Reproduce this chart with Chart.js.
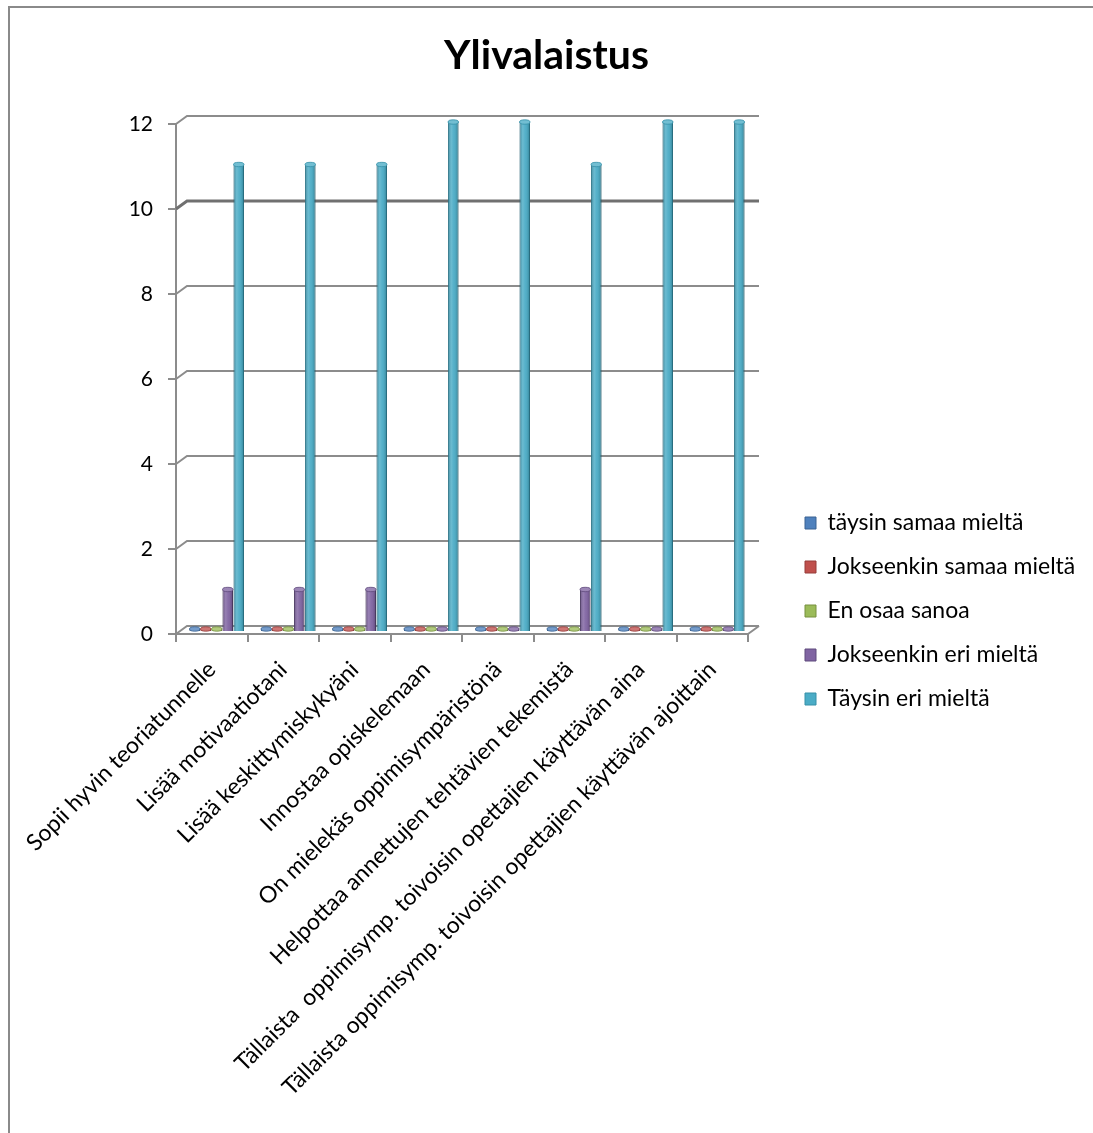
<!DOCTYPE html>
<html lang="fi">
<head>
<meta charset="utf-8">
<title>Ylivalaistus</title>
<script src="https://cdn.jsdelivr.net/npm/chart.js@4.4.1/dist/chart.umd.min.js"></script>
<style>
  html, body { margin: 0; padding: 0; background: #fff; overflow: hidden; }
  #frame {
    position: absolute; left: 8px; top: 6px; width: 2000px; height: 2000px;
    border-left: 2px solid #8a8a8a; border-top: 2px solid #8a8a8a; background: #fff;
  }
  #wrap { position: absolute; left: 0; top: 0; width: 1093px; height: 1133px; }
</style>
</head>
<body>
<div id="frame"></div>
<div id="wrap"><canvas id="chart"></canvas></div>
<script>
// Survey statements (x categories)
const categories = [
  'Sopii hyvin teoriatunnelle',
  'Lisää motivaatiotani',
  'Lisää keskittymiskykyäni',
  'Innostaa opiskelemaan',
  'On mielekäs oppimisympäristönä',
  'Helpottaa annettujen tehtävien tekemistä',
  'Tällaista  oppimisymp. toivoisin opettajien käyttävän aina',
  'Tällaista oppimisymp. toivoisin opettajien käyttävän ajoittain'
];

// Answer options (series) and their counts per statement
const seriesNames = [
  'täysin samaa mieltä',
  'Jokseenkin samaa mieltä',
  'En osaa sanoa',
  'Jokseenkin eri mieltä',
  'Täysin eri mieltä'
];
const taysinSamaa     = [0, 0, 0, 0, 0, 0, 0, 0];
const jokseenkinSamaa = [0, 0, 0, 0, 0, 0, 0, 0];
const enOsaaSanoa     = [0, 0, 0, 0, 0, 0, 0, 0];
const jokseenkinEri   = [1, 1, 1, 0, 0, 1, 0, 0];
const taysinEri       = [11, 11, 11, 12, 12, 11, 12, 12];

// Value axis
const yMin = 0;
const yMax = 12;
const yStep = 2;

const seriesColors = ['#4F81BD', '#C0504D', '#9BBB59', '#8064A2', '#4BACC6'];
const seriesEdges  = ['#3A6393', '#963C3A', '#76903F', '#5F4A7C', '#3690A8'];
const seriesValues = [taysinSamaa, jokseenkinSamaa, enOsaaSanoa, jokseenkinEri, taysinEri];

const GRID = '#8c8c8c';
const DEPTH_X = 11, DEPTH_Y = 8;

// Back wall gridlines and floor, drawn with a small perspective offset
const wallPlugin = {
  id: 'wall',
  beforeLayout(chart) {
    const lg = chart.legend;
    if (lg && !lg._fixedWidth) {
      const fit = lg.fit.bind(lg);
      lg.fit = function () { fit(); this.width = 345; };
      lg._fixedWidth = true;
    }
  },
  afterLayout(chart) {
    const lg = chart.legend;
    if (lg) { lg.left = 784; lg.right = 1093; lg.top = 490.5; lg.bottom = 760; }
  },
  beforeDatasetsDraw(chart) {
    const {ctx, chartArea: a, scales: {y}} = chart;
    ctx.save();
    ctx.lineCap = 'butt';
    y.ticks.forEach(t => {
      const py = y.getPixelForValue(t.value);
      const strong = t.value === 10;
      ctx.strokeStyle = strong ? '#707070' : GRID;
      ctx.lineWidth = strong ? 3 : 2;
      ctx.beginPath();
      ctx.moveTo(a.left, py);
      ctx.lineTo(a.left + DEPTH_X, py - DEPTH_Y);
      ctx.lineTo(a.right + DEPTH_X, py - DEPTH_Y);
      ctx.stroke();
    });
    // right edge of the floor
    const p0 = y.getPixelForValue(0);
    ctx.strokeStyle = GRID;
    ctx.lineWidth = 2;
    ctx.beginPath();
    ctx.moveTo(a.right, p0);
    ctx.lineTo(a.right + DEPTH_X, p0 - DEPTH_Y);
    ctx.stroke();
    ctx.restore();
    // bars sit slightly back in depth
    ctx.save();
    ctx.translate(5, -2);
  },
  afterDatasetsDraw(chart) {
    const ctx = chart.ctx;
    // cylinder shading over each bar
    chart.data.datasets.forEach((ds, di) => {
      const meta = chart.getDatasetMeta(di);
      meta.data.forEach(el => {
        const w = el.width, x0 = el.x - w / 2;
        const top = Math.min(el.y, el.base), bot = Math.max(el.y, el.base);
        const g = ctx.createLinearGradient(x0, 0, x0 + w, 0);
        g.addColorStop(0, 'rgba(0,0,0,0.22)');
        g.addColorStop(0.3, 'rgba(255,255,255,0.18)');
        g.addColorStop(0.55, 'rgba(255,255,255,0.05)');
        g.addColorStop(0.85, 'rgba(0,0,0,0.12)');
        g.addColorStop(1, 'rgba(0,0,0,0.3)');
        ctx.fillStyle = g;
        ctx.fillRect(x0, top, w, bot - top);
        // top cap
        ctx.beginPath();
        ctx.ellipse(el.x, top, w / 2, 2.2, 0, 0, Math.PI * 2);
        ctx.fillStyle = seriesColors[di];
        ctx.fill();
        ctx.fillStyle = 'rgba(255,255,255,0.22)';
        ctx.fill();
        ctx.strokeStyle = seriesEdges[di];
        ctx.lineWidth = 0.8;
        ctx.stroke();
      });
    });
    ctx.restore();
  }
};

const datasets = seriesNames.map((name, i) => ({
  label: name,
  data: seriesValues[i],
  backgroundColor: seriesColors[i],
  borderColor: seriesEdges[i],
  borderWidth: 1,
  minBarLength: 3,
  categoryPercentage: 0.77,
  barPercentage: 0.95
}));

new Chart(document.getElementById('chart'), {
  type: 'bar',
  data: { labels: categories, datasets },
  plugins: [wallPlugin],
  options: {
    responsive: true,
    maintainAspectRatio: false,
    animation: false,
    layout: { padding: { top: 0, left: 0, right: 0, bottom: 0 } },
    plugins: {
      title: {
        display: true,
        text: 'Ylivalaistus',
        color: '#000',
        font: { family: 'Lato', size: 41, weight: 'bold' },
        padding: { top: 31, bottom: 43.8 }
      },
      legend: {
        display: true,
        position: 'right',
        align: 'start',
        labels: {
          color: '#000',
          font: { family: 'Lato', size: 23 },
          boxWidth: 11,
          boxHeight: 12,
          padding: 21
        }
      },
      tooltip: { enabled: false }
    },
    scales: {
      x: {
        afterFit(s) { s.height = 1133 - 634; },
        grid: { display: true, drawOnChartArea: false, drawTicks: true, tickLength: 8, color: GRID, lineWidth: 2 },
        border: { display: true, color: GRID, width: 2 },
        ticks: {
          autoSkip: false, minRotation: 45, maxRotation: 45,
          color: '#000', padding: 14,
          font: { family: 'Lato', size: 23 }
        }
      },
      y: {
        min: yMin, max: yMax,
        afterFit(s) { s.width = 176; },
        grid: { display: true, drawOnChartArea: false, drawTicks: true, tickLength: 8, color: GRID, lineWidth: 2 },
        border: { display: true, color: GRID, width: 2 },
        ticks: {
          stepSize: yStep, color: '#000', padding: 15,
          font: { family: 'Lato', size: 21 }
        }
      }
    }
  }
});
</script>
</body>
</html>
